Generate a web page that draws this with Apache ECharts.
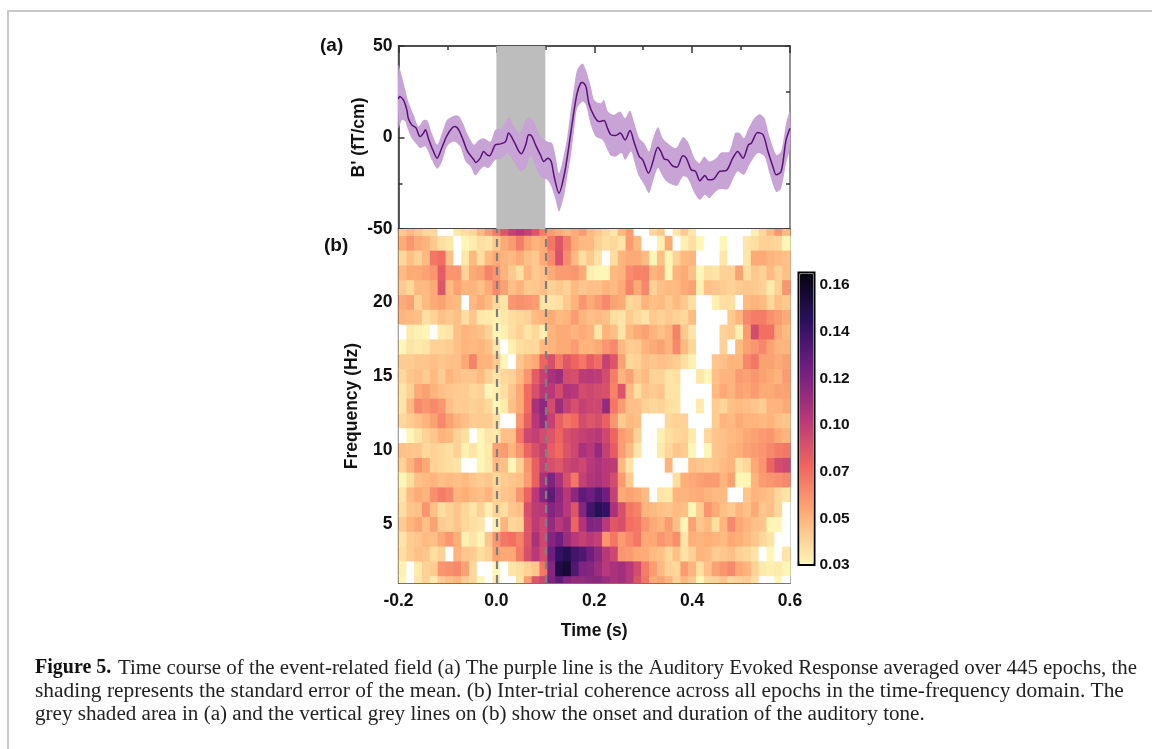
<!DOCTYPE html>
<html><head><meta charset="utf-8">
<style>html,body{margin:0;padding:0;background:#fff}#c{width:1152px;height:749px}</style>
<script src="https://cdn.jsdelivr.net/npm/echarts@6/dist/echarts.min.js"></script>
</head><body><div id="c"></div>
<script>
// Panel (a): mean response
const meanT=[-0.2,-0.198,-0.19,-0.183,-0.18,-0.173,-0.164,-0.156,-0.149,-0.145,-0.139,-0.13,-0.121,-0.113,-0.102,-0.091,-0.084,-0.077,-0.068,-0.059,-0.046,-0.042,-0.033,-0.026,-0.019,-0.014,-0.002,0.008,0.019,0.025,0.036,0.046,0.051,0.06,0.066,0.072,0.08,0.09,0.097,0.105,0.112,0.118,0.128,0.138,0.145,0.152,0.159,0.165,0.172,0.176,0.183,0.189,0.2,0.21,0.22,0.227,0.234,0.244,0.253,0.263,0.273,0.282,0.292,0.299,0.311,0.319,0.33,0.336,0.343,0.35,0.36,0.369,0.381,0.388,0.398,0.407,0.416,0.426,0.433,0.444,0.456,0.47,0.483,0.493,0.504,0.515,0.521,0.534,0.545,0.555,0.565,0.572,0.582,0.592,0.6];
const meanV=[21,22.4,20.5,15.1,10.5,6.9,5.1,0.5,2.4,4.2,-0.4,-6.7,-11.3,-6.7,0.5,5.1,6,4.2,-1.3,-7.6,-12.2,-13.6,-11.3,-7.6,-9.5,-10,-4,-3.5,-2.2,2.4,-2.2,-7.6,-8.9,-4,1.5,0.9,-4,-9.5,-13.1,-11.3,-13.1,-21.3,-30.4,-21.3,-10.4,2.4,15.1,24.2,29.6,30,27.8,18.7,11.5,8.7,9.3,5.1,1.5,1.1,2.4,-1.3,3.8,-3.1,-10.4,-12.2,-19.5,-14,-5.3,-7.6,-11.8,-12.2,-15.5,-16.2,-10,-11.3,-17.6,-18.5,-23.6,-20.7,-23.1,-22.7,-18.5,-18,-11.3,-7.6,-11.3,-4,-3.1,2.7,1.5,-7.6,-15.8,-20.4,-18.5,-1.3,5.1];
// Panel (a): standard error envelope
const upperT=[-0.2,-0.193,-0.186,-0.18,-0.169,-0.159,-0.149,-0.141,-0.132,-0.121,-0.111,-0.101,-0.087,-0.077,-0.068,-0.06,-0.046,-0.036,-0.026,-0.012,-0.002,0.012,0.025,0.036,0.048,0.06,0.068,0.078,0.09,0.104,0.114,0.121,0.128,0.138,0.145,0.152,0.159,0.165,0.176,0.183,0.193,0.2,0.213,0.22,0.228,0.24,0.253,0.263,0.273,0.282,0.292,0.302,0.312,0.319,0.33,0.34,0.35,0.367,0.381,0.391,0.405,0.415,0.425,0.435,0.449,0.459,0.476,0.488,0.497,0.506,0.514,0.527,0.538,0.548,0.558,0.572,0.582,0.592,0.6];
const upperV=[39.6,33.3,26,19.6,12.4,6,9.6,9.3,2.4,-4,2.4,9.6,11.8,11.8,7.8,2.4,-4,-1.3,-0.4,-2.2,4.2,5.1,11.1,6,2.4,9.6,11.1,7.8,0.5,-2.2,-3.1,-10.4,-19.5,-9.5,0.5,15.1,27.8,36.9,40.5,36.9,27.8,20.5,18.7,20.5,14.2,12.4,14.2,10.5,14.7,7.8,-0.4,-3.1,-7.6,-1.3,5.6,-0.4,-3.1,-5.8,0.2,-2.2,-11.3,-14,-10.4,-13.1,-11.3,-8.2,-7.6,2.4,2.4,-0.4,4.2,10.5,12.7,10.5,0.5,-9.5,-7.6,7.8,14.2];
const lowerT=[-0.2,-0.193,-0.186,-0.183,-0.173,-0.162,-0.156,-0.145,-0.132,-0.121,-0.111,-0.101,-0.087,-0.074,-0.063,-0.053,-0.043,-0.033,-0.026,-0.016,-0.002,0.012,0.022,0.036,0.049,0.06,0.07,0.08,0.09,0.104,0.112,0.121,0.128,0.138,0.145,0.152,0.159,0.165,0.176,0.183,0.193,0.203,0.217,0.227,0.234,0.244,0.256,0.263,0.275,0.282,0.29,0.302,0.312,0.319,0.33,0.34,0.35,0.369,0.381,0.391,0.405,0.416,0.426,0.435,0.445,0.456,0.473,0.483,0.493,0.506,0.517,0.534,0.548,0.558,0.572,0.582,0.592,0.6];
const lowerV=[5.1,9.6,8.7,6,-0.4,-4,-5.8,-4.9,-12.2,-17.1,-13.1,-4.9,-2.2,-4.9,-13.1,-15.8,-20.7,-17.6,-15.8,-16.7,-12.2,-11.3,-8.5,-13.1,-18.5,-16.7,-9.5,-15.8,-21.3,-23.1,-26.7,-34,-40.4,-32.2,-21.3,-10.4,4.2,16,19.6,17.8,6.9,0.5,-1.3,-6.7,-10,-10.4,-8.5,-12.2,-7.6,-13.1,-20.4,-25.8,-30.4,-24.9,-16.7,-21.3,-24.5,-26.4,-21.3,-22.2,-30.4,-34,-31.3,-33.1,-30.4,-28.2,-28.2,-23.1,-18.5,-20.4,-14.9,-8.5,-10.4,-19.5,-29.8,-27.6,-14,-5.8];
const toneWindow=[0,0.1];
// Panel (b): inter-trial coherence x 1000, one array per frequency (Hz); under 30 is shown white
const itc25=[45,50,45,40,40,28,28,35,38,40,50,60,70,85,95,100,95,85,70,60,55,50,55,60,50,45,40,35,50,60,28,28,40,45,28,35,45,35,28,28,28,28,28,28,28,32,40,50,62,50];
const itc24=[55,62,55,52,45,38,35,28,30,33,38,36,45,55,60,70,58,52,55,72,85,70,55,50,50,42,38,40,36,60,50,28,28,32,55,28,32,38,30,28,28,30,28,28,35,38,42,42,40,30];
const itc23=[40,48,42,50,72,75,48,28,35,50,38,50,55,52,50,55,48,45,55,65,88,65,50,38,45,36,28,38,52,55,55,50,30,48,30,42,50,52,28,28,28,35,28,28,35,55,55,52,50,48];
const itc22=[50,55,55,58,62,82,62,62,42,55,58,68,62,52,45,38,52,45,48,55,60,60,62,55,32,30,30,50,52,65,68,68,52,55,30,52,55,48,30,38,36,42,42,58,38,45,42,50,42,48];
const itc21=[45,40,50,50,55,85,50,58,52,52,48,55,66,58,48,52,45,46,48,42,45,42,50,46,48,48,52,50,55,68,55,66,42,48,50,50,55,58,32,48,46,44,42,44,46,45,42,34,42,62];
const itc20=[55,58,42,50,55,58,52,50,28,50,55,50,40,36,62,64,62,60,36,36,38,45,52,62,55,60,66,58,55,40,42,52,48,50,45,50,45,38,28,28,32,38,38,28,50,52,50,40,48,45];
const itc19=[52,50,48,38,42,48,45,48,38,46,35,34,32,35,38,40,42,50,52,55,50,52,60,52,48,50,48,38,36,44,40,36,45,42,45,42,40,50,28,28,28,28,45,52,66,70,70,64,60,55];
const itc18=[28,34,32,30,28,34,36,48,52,50,48,42,30,32,38,42,36,40,32,52,55,55,52,55,52,35,52,48,36,50,55,58,52,48,52,68,45,36,28,28,28,42,44,32,60,90,74,74,55,50];
const itc17=[30,36,34,36,42,42,44,48,52,50,52,48,36,28,32,38,40,40,50,52,55,55,60,52,52,55,62,66,50,44,45,52,55,58,52,66,50,40,28,28,28,42,28,50,58,62,66,58,52,52];
const itc16=[44,44,46,46,48,46,48,48,56,68,52,52,44,30,28,46,52,56,78,88,72,84,78,72,82,75,95,85,58,40,42,48,46,48,46,44,38,32,28,28,46,48,52,52,66,72,58,58,55,58];
const itc15=[40,46,48,44,50,44,52,48,46,46,50,42,36,40,42,50,62,82,95,105,110,90,88,98,100,98,90,70,52,58,46,50,42,42,36,38,28,28,35,30,48,52,52,60,58,62,58,55,52,60];
const itc14=[36,42,55,58,52,48,46,44,44,40,42,30,32,38,46,56,75,88,100,100,90,102,100,90,92,90,88,68,86,50,38,46,44,46,36,36,28,28,28,28,50,56,52,58,56,60,55,55,58,58];
const itc13=[36,50,66,62,66,62,48,44,44,42,44,40,30,34,48,55,75,105,115,90,110,95,88,95,92,92,112,72,60,48,48,42,40,42,38,36,28,28,34,28,44,40,48,50,48,46,44,52,52,55];
const itc12=[40,44,48,52,58,66,58,52,48,44,44,44,38,28,28,62,80,100,112,95,80,72,76,90,85,88,80,62,44,50,48,28,28,28,40,42,42,28,28,28,44,52,50,55,52,52,50,52,48,46];
const itc11=[28,30,36,42,46,52,50,42,38,28,30,36,34,48,48,72,92,96,90,86,78,88,92,95,98,100,92,78,60,55,42,28,28,32,38,40,42,34,28,40,46,48,50,52,56,58,60,62,56,52];
const itc10=[48,46,46,40,42,40,38,42,32,36,30,34,58,60,52,62,78,88,95,82,76,86,92,105,100,112,96,82,60,50,36,28,28,34,40,46,44,30,28,30,46,48,52,54,58,60,62,66,70,72];
const itc09=[42,52,62,56,42,40,38,36,28,28,30,34,50,48,30,42,62,80,95,88,84,92,96,92,100,104,100,98,50,36,28,28,28,28,52,28,28,48,46,44,46,50,52,36,40,56,62,78,90,92];
const itc08=[30,38,48,50,52,48,50,48,50,46,44,46,40,44,46,48,60,80,105,120,105,88,72,95,102,105,100,90,60,44,28,28,28,28,28,38,54,56,58,60,60,52,58,30,30,52,60,62,64,66];
const itc07=[36,50,55,52,64,70,66,52,54,50,48,52,42,46,48,62,78,100,118,130,115,100,115,130,125,135,125,95,55,58,55,50,28,36,34,52,52,54,55,52,50,50,28,28,46,52,50,48,40,36];
const itc06=[38,46,48,62,48,38,42,46,40,36,42,32,42,38,46,48,88,98,100,118,112,100,85,118,140,150,145,105,88,72,68,52,50,48,46,50,48,30,44,62,55,48,45,52,48,55,46,48,40,28];
const itc05=[44,52,56,48,58,44,42,46,40,38,36,28,32,52,40,42,85,98,92,112,100,108,78,102,120,118,100,84,88,74,72,62,55,52,60,48,30,58,46,50,38,52,66,56,52,48,46,30,30,28];
const itc04=[36,44,46,50,48,56,62,54,32,36,30,46,62,72,74,68,85,105,92,118,125,110,100,95,100,96,62,72,60,66,72,56,56,62,58,64,36,54,52,54,52,50,56,54,50,46,40,36,28,28];
const itc03=[38,44,48,46,38,42,28,52,46,44,38,42,58,56,56,70,88,100,90,125,145,152,140,135,125,115,100,92,62,60,56,55,50,48,40,48,36,42,52,50,44,46,48,42,40,36,28,30,28,36];
const itc02=[32,28,34,42,44,62,64,66,58,40,28,28,30,28,36,38,42,46,72,118,155,160,135,120,118,110,100,105,108,100,90,70,60,50,42,40,60,52,38,48,58,62,66,56,52,42,34,32,34,30];
const itc01=[30,28,36,42,34,44,48,52,44,40,30,28,34,28,28,36,60,85,92,120,130,118,112,112,115,115,110,105,108,100,85,72,55,58,52,42,50,46,30,40,42,46,40,42,44,38,28,28,30,28];
const itcRows=[itc01,itc02,itc03,itc04,itc05,itc06,itc07,itc08,itc09,itc10,itc11,itc12,itc13,itc14,itc15,itc16,itc17,itc18,itc19,itc20,itc21,itc22,itc23,itc24,itc25];
const frequencies=itcRows.map((_,i)=>i+1);
const firstBinStart=-0.2, binWidth=0.016;
const freqTicks=[5,10,15,20];
const amplitudeTicks=[-50,0,50];
const colorStops=['#fef6b6','#feb078','#f1665f','#b73779','#721f81','#2c115f','#05040f'];
const cbarTicks=[0.03,0.0525,0.075,0.0975,0.12,0.1425,0.165];
const cbarLabels=['0.03','0.05','0.07','0.10','0.12','0.14','0.16'];
const captionBold='Figure 5.';
const captionLines=['Time course of the event-related field (a) The purple line is the Auditory Evoked Response averaged over 445 epochs, the',
 'shading represents the standard error of the mean. (b) Inter-trial coherence across all epochs in the time-frequency domain. The',
 'grey shaded area in (a) and the vertical grey lines on (b) show the onset and duration of the auditory tone.'];

const heatData=[];
itcRows.forEach((row,r)=>row.forEach((v,c)=>heatData.push([firstBinStart+(c+0.5)*binWidth,frequencies[r],v/1000])));
const bandPts=upperT.map((t,i)=>[t,upperV[i]]).concat(lowerT.map((t,i)=>[t,lowerV[i]]).reverse());
const F='"Liberation Sans",Arial,sans-serif';
const lab={fontFamily:F,fontWeight:'bold',fontSize:17.5,color:'#111'};
const line=(c,w)=>({show:true,onZero:false,lineStyle:{color:c,width:w||1.5}});
const xBase={type:'value',min:-0.2,max:0.6,interval:0.2,splitLine:{show:false}};
const minor={show:true,splitNumber:2,length:4,lineStyle:{color:'#333',width:1.5}};
const chart=echarts.init(document.getElementById('c'),null,{renderer:'canvas'});
const serif='"Liberation Serif"';
chart.setOption({
 animation:false,backgroundColor:'#fff',
 grid:[
  {left:398.5,top:46,width:391.5,height:183,show:true,borderColor:'#888',borderWidth:1.5,backgroundColor:'transparent'},
  {left:398.5,top:229,width:391.5,height:354,show:true,borderColor:'#888',borderWidth:1.5,backgroundColor:'transparent'},
  {left:798.5,top:272.5,width:16,height:292.5,show:true,borderColor:'#000',borderWidth:2,backgroundColor:'transparent'}
 ],
 xAxis:[
  Object.assign({},xBase,{gridIndex:0,position:'top',axisLine:line('#333'),axisLabel:{show:false},axisTick:{show:true,inside:true,length:7,lineStyle:{color:'#333',width:1.5}},minorTick:Object.assign({},minor)}),
  Object.assign({},xBase,{gridIndex:1,position:'bottom',axisLine:line('#666'),axisLabel:Object.assign({},lab,{margin:9,formatter:v=>v.toFixed(1)}),axisTick:{show:true,inside:true,length:7,lineStyle:{color:'#333',width:1.5}},minorTick:Object.assign({},minor),name:'Time (s)',nameLocation:'middle',nameGap:39,nameMoveOverlap:false,nameTextStyle:lab}),
  Object.assign({},xBase,{gridIndex:1,position:'top',axisLine:line('#333'),axisLabel:{show:false},axisTick:{show:true,inside:true,length:7,lineStyle:{color:'#333',width:1.5}},minorTick:Object.assign({},minor)}),
  {type:'value',gridIndex:2,show:false,min:0,max:1}
 ],
 yAxis:[
  {type:'value',gridIndex:0,position:'left',min:-50,max:50,interval:50,splitLine:{show:false},axisLine:line('#333'),axisTick:{show:true,inside:true,length:6,lineStyle:{color:'#333',width:1.5}},minorTick:Object.assign({},minor),
   axisLabel:Object.assign({},lab,{margin:6,customValues:amplitudeTicks}),name:"B' (fT/cm)",nameLocation:'middle',nameGap:30,nameMoveOverlap:false,nameTextStyle:lab},
  {type:'value',gridIndex:0,position:'right',min:-50,max:50,interval:50,splitLine:{show:false},axisLine:line('#888'),axisLabel:{show:false},axisTick:{show:true,inside:true,length:5,lineStyle:{color:'#333',width:1.5}},minorTick:Object.assign({},minor)},
  {type:'value',gridIndex:1,position:'left',min:1,max:24.92,splitLine:{show:false},axisLine:line('#333'),axisTick:{show:true,inside:true,length:6,customValues:freqTicks,lineStyle:{color:'#333',width:1.5}},
   axisLabel:Object.assign({},lab,{margin:6,customValues:freqTicks}),name:'Frequency (Hz)',nameLocation:'middle',nameGap:37,nameMoveOverlap:false,nameTextStyle:lab},
  {type:'value',gridIndex:1,position:'right',min:1,max:24.92,splitLine:{show:false},axisLine:line('#888'),axisLabel:{show:false},axisTick:{show:true,inside:true,length:5,customValues:freqTicks,lineStyle:{color:'#333',width:1.5}}},
  {type:'value',gridIndex:2,position:'right',min:0.03,max:0.171,splitLine:{show:false},axisLine:{show:false},axisTick:{show:false},
   axisLabel:Object.assign({},lab,{fontSize:15.5,margin:5,customValues:cbarTicks,formatter:v=>cbarLabels[cbarTicks.indexOf(v)]||''})}
 ],
 visualMap:{type:'continuous',seriesIndex:0,dimension:2,min:0.0299,max:0.171,range:[0.03,0.171],calculable:false,hoverLink:false,show:true,
  left:799.5,top:273.5,padding:0,itemWidth:14,itemHeight:290.5,text:null,showLabel:false,
  inRange:{color:colorStops},outOfRange:{color:'#ffffff'},z:1},
 series:[
  {type:'custom',name:'Inter-trial coherence',xAxisIndex:1,yAxisIndex:2,clip:true,z:2,silent:true,
   encode:{x:0,y:1},data:heatData,
   renderItem:(p,api)=>{
    const a=api.coord([api.value(0)-binWidth/2,api.value(1)+0.5]);
    const b=api.coord([api.value(0)+binWidth/2,api.value(1)-0.5]);
    return {type:'rect',shape:{x:a[0],y:a[1],width:b[0]-a[0]+0.6,height:b[1]-a[1]+0.6},style:{fill:api.visual('color'),stroke:null}};
   },
   markLine:{silent:true,symbol:'none',label:{show:false},z:6,
    lineStyle:{color:'#7f7f7f',width:2.2,type:[8,6]},
    data:toneWindow.map(t=>({xAxis:t}))}},
  {type:'custom',name:'SEM',xAxisIndex:0,yAxisIndex:0,clip:true,z:3,silent:true,
   encode:{x:0,y:1},data:bandPts,
   renderItem:(p,api)=>{
    if(p.dataIndex!==0) return null;
    return {type:'polygon',shape:{points:bandPts.map(q=>api.coord(q)),smooth:0.25},style:{fill:'#c7a3d6',stroke:null}};
   }},
  {type:'line',name:"B'",xAxisIndex:0,yAxisIndex:0,z:4,showSymbol:false,smooth:0.3,silent:true,
   data:meanT.map((t,i)=>[t,meanV[i]]),lineStyle:{color:'#5a1278',width:1.5},
   markArea:{silent:true,z:1,itemStyle:{color:'#bdbdbd',opacity:1},label:{show:false},
    data:[[{xAxis:toneWindow[0]},{xAxis:toneWindow[1]}]]}}
 ],
 graphic:[
  {type:'rect',silent:true,shape:{x:0,y:0,width:2,height:739},x:7,y:10,style:{fill:'#c8c8c8'}},
  {type:'rect',silent:true,shape:{x:0,y:0,width:1145,height:2},x:7,y:10,style:{fill:'#c8c8c8'}},
  {type:'text',x:320,y:36,style:{text:'(a)',font:'bold 19px "Liberation Sans"',fill:'#111'}},
  {type:'text',x:324,y:236,style:{text:'(b)',font:'bold 19px "Liberation Sans"',fill:'#111'}},
  {type:'text',x:35,y:658,style:{text:captionBold,font:'bold 20px '+serif,fill:'#111'}},
  {type:'text',x:118,y:658,style:{text:captionLines[0],font:'20.9px '+serif,fill:'#222'}},
  {type:'text',x:35,y:681,style:{text:captionLines[1],font:'21.4px '+serif,fill:'#222'}},
  {type:'text',x:35,y:704,style:{text:captionLines[2],font:'21.1px '+serif,fill:'#222'}}
 ]
});
</script></body></html>
